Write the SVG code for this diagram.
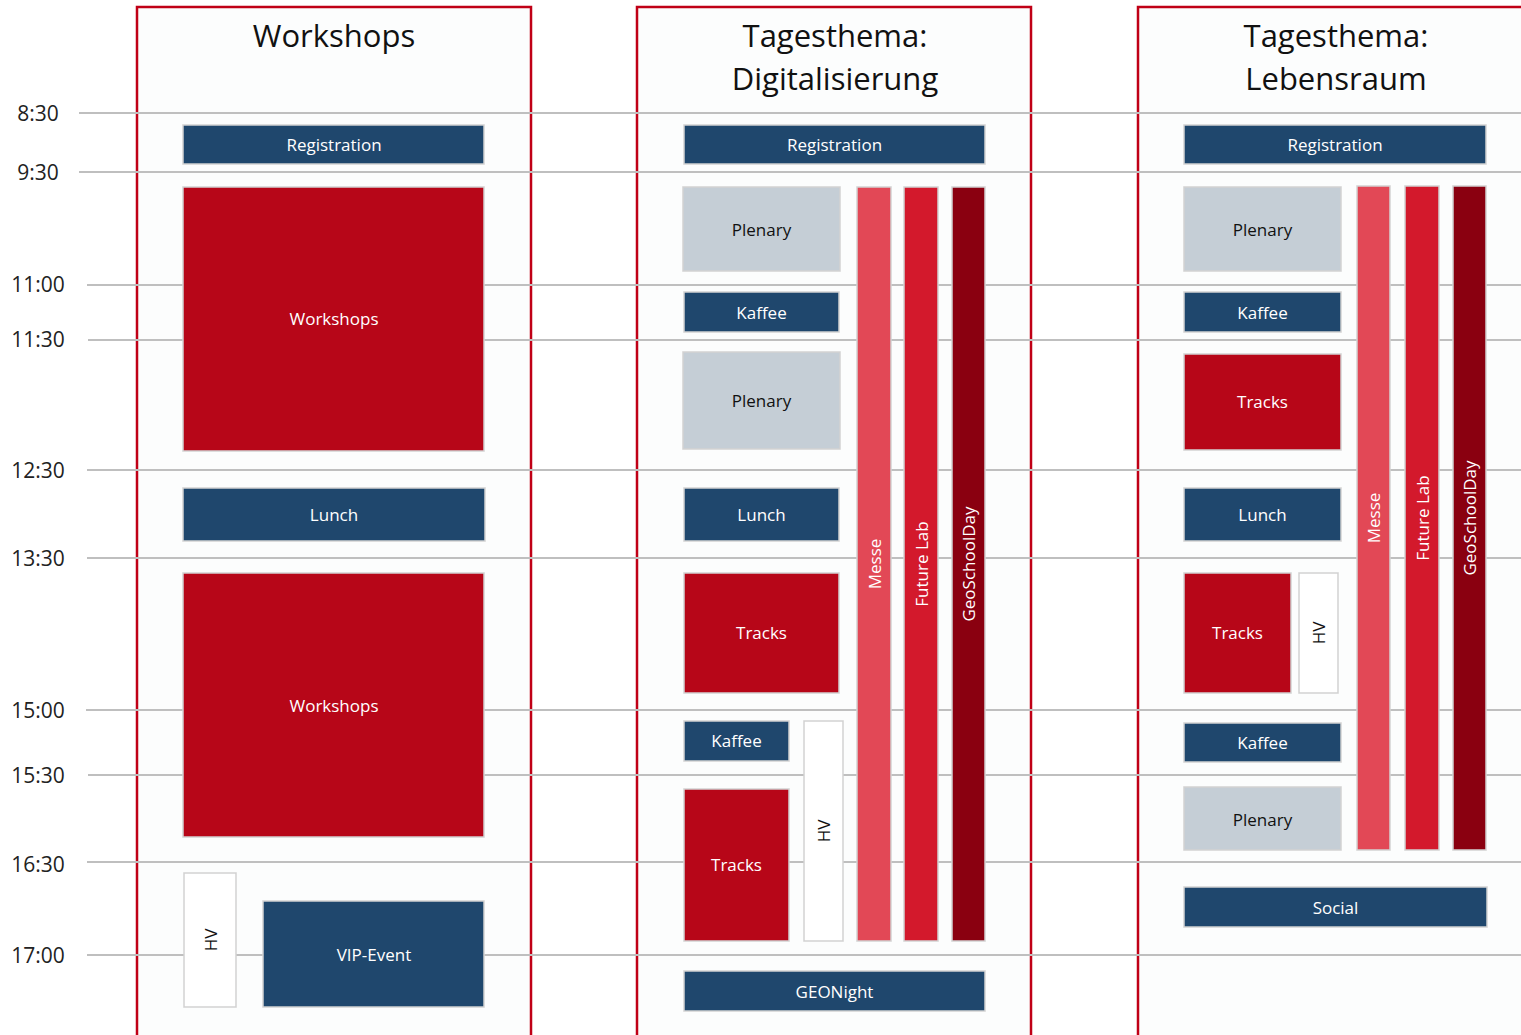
<svg xmlns="http://www.w3.org/2000/svg" width="1521" height="1035" viewBox="0 0 1521 1035">
<style>
.grid line{stroke:#bfbfbf;stroke-width:2}
.col{fill:#fcfdfd;stroke:#c00016;stroke-width:2.5}
.box{stroke:#d2d2d2;stroke-width:1.5}
.navy{fill:#1f476d}
.red{fill:#b70618}
.gray{fill:#c5ced6}
.white{fill:#ffffff}
.messe{fill:#e24856}
.flab{fill:#d3192c}
.geo{fill:#8a0010}
text{font-family:"Open Sans","Noto Sans","Liberation Sans",sans-serif}
.lbl{font-size:17px;fill:#ffffff;text-anchor:middle;dominant-baseline:central}
.dark{fill:#111111}
.title{font-size:31px;fill:#111111;text-anchor:middle}
.time{font-size:21px;fill:#222222;text-anchor:middle}
</style>
<rect width="1521" height="1035" fill="#ffffff"/>
<g id="columns">
<rect class="col" x="137" y="7" width="394" height="1040"/>
<rect class="col" x="637" y="7" width="394" height="1040"/>
<rect class="col" x="1138" y="7" width="400" height="1040"/>
</g>
<g id="titles">
<text class="title" x="334" y="47">Workshops</text>
<text class="title" x="835" y="47">Tagesthema:</text>
<text class="title" x="835" y="90">Digitalisierung</text>
<text class="title" x="1336" y="47">Tagesthema:</text>
<text class="title" x="1336" y="90">Lebensraum</text>
</g>
<g class="grid" id="gridlines">
<line x1="79" y1="113" x2="1521" y2="113"/>
<line x1="79" y1="172" x2="1521" y2="172"/>
<line x1="87" y1="285" x2="1521" y2="285"/>
<line x1="88" y1="340" x2="1521" y2="340"/>
<line x1="87" y1="470" x2="1521" y2="470"/>
<line x1="87" y1="558" x2="1521" y2="558"/>
<line x1="86" y1="710" x2="1521" y2="710"/>
<line x1="88" y1="775" x2="1521" y2="775"/>
<line x1="87" y1="862" x2="1521" y2="862"/>
<line x1="87" y1="955" x2="1521" y2="955"/>
</g>
<g id="times">
<text class="time" x="38" y="121">8:30</text>
<text class="time" x="38" y="180">9:30</text>
<text class="time" x="38" y="292">11:00</text>
<text class="time" x="38" y="347">11:30</text>
<text class="time" x="38" y="478">12:30</text>
<text class="time" x="38" y="566">13:30</text>
<text class="time" x="38" y="718">15:00</text>
<text class="time" x="38" y="783">15:30</text>
<text class="time" x="38" y="872">16:30</text>
<text class="time" x="38" y="963">17:00</text>
</g>
<!-- Workshops column -->
<g id="ws-registration"><rect class="box navy" x="183" y="125" width="301" height="39"/><text class="lbl" x="334" y="144">Registration</text></g>
<g id="ws-workshops1"><rect class="box red" x="183" y="187" width="301" height="264"/><text class="lbl" x="334" y="318">Workshops</text></g>
<g id="ws-lunch"><rect class="box navy" x="183" y="488" width="302" height="53"/><text class="lbl" x="334" y="514.5">Lunch</text></g>
<g id="ws-workshops2"><rect class="box red" x="183" y="573" width="301" height="264"/><text class="lbl" x="334" y="705">Workshops</text></g>
<g id="ws-hv"><rect class="box white" x="184" y="873" width="52" height="134"/><text class="lbl dark" transform="translate(210,940) rotate(-90)">HV</text></g>
<g id="ws-vip"><rect class="box navy" x="263" y="901" width="221" height="106"/><text class="lbl" x="374" y="954">VIP-Event</text></g>
<!-- Digitalisierung column -->
<g id="d-registration"><rect class="box navy" x="684" y="125" width="301" height="39"/><text class="lbl" x="834.5" y="144">Registration</text></g>
<g id="d-plenary1"><rect class="box gray" x="683" y="187" width="157" height="84"/><text class="lbl dark" x="761.5" y="229">Plenary</text></g>
<g id="d-kaffee1"><rect class="box navy" x="684" y="292" width="155" height="40"/><text class="lbl" x="761.5" y="312">Kaffee</text></g>
<g id="d-plenary2"><rect class="box gray" x="683" y="352" width="157" height="97"/><text class="lbl dark" x="761.5" y="400">Plenary</text></g>
<g id="d-lunch"><rect class="box navy" x="684" y="488" width="155" height="53"/><text class="lbl" x="761.5" y="514.5">Lunch</text></g>
<g id="d-tracks1"><rect class="box red" x="684" y="573" width="155" height="120"/><text class="lbl" x="761.5" y="632">Tracks</text></g>
<g id="d-kaffee2"><rect class="box navy" x="684" y="721" width="105" height="40"/><text class="lbl" x="736.5" y="740">Kaffee</text></g>
<g id="d-tracks2"><rect class="box red" x="684" y="789" width="105" height="152"/><text class="lbl" x="736.5" y="864">Tracks</text></g>
<g id="d-hv"><rect class="box white" x="804" y="721" width="39" height="220"/><text class="lbl dark" transform="translate(823.5,831) rotate(-90)">HV</text></g>
<g id="d-messe"><rect class="box messe" x="857" y="187" width="34" height="754"/><text class="lbl" transform="translate(874,564) rotate(-90)">Messe</text></g>
<g id="d-futurelab"><rect class="box flab" x="904" y="187" width="34" height="754"/><text class="lbl" transform="translate(921,564) rotate(-90)">Future Lab</text></g>
<g id="d-geoschoolday"><rect class="box geo" x="952" y="187" width="33" height="754"/><text class="lbl" transform="translate(968.5,564) rotate(-90)">GeoSchoolDay</text></g>
<g id="d-geonight"><rect class="box navy" x="684" y="971" width="301" height="40"/><text class="lbl" x="834.5" y="991">GEONight</text></g>
<!-- Lebensraum column -->
<g id="l-registration"><rect class="box navy" x="1184" y="125" width="302" height="39"/><text class="lbl" x="1335" y="144">Registration</text></g>
<g id="l-plenary1"><rect class="box gray" x="1184" y="187" width="157" height="84"/><text class="lbl dark" x="1262.5" y="229">Plenary</text></g>
<g id="l-kaffee1"><rect class="box navy" x="1184" y="292" width="157" height="40"/><text class="lbl" x="1262.5" y="312">Kaffee</text></g>
<g id="l-tracks1"><rect class="box red" x="1184" y="354" width="157" height="96"/><text class="lbl" x="1262.5" y="401">Tracks</text></g>
<g id="l-lunch"><rect class="box navy" x="1184" y="488" width="157" height="53"/><text class="lbl" x="1262.5" y="514.5">Lunch</text></g>
<g id="l-tracks2"><rect class="box red" x="1184" y="573" width="107" height="120"/><text class="lbl" x="1237.5" y="632">Tracks</text></g>
<g id="l-hv"><rect class="box white" x="1299" y="573" width="39" height="120"/><text class="lbl dark" transform="translate(1318.5,633) rotate(-90)">HV</text></g>
<g id="l-kaffee2"><rect class="box navy" x="1184" y="723" width="157" height="39"/><text class="lbl" x="1262.5" y="742.5">Kaffee</text></g>
<g id="l-plenary2"><rect class="box gray" x="1184" y="787" width="157" height="63"/><text class="lbl dark" x="1262.5" y="819">Plenary</text></g>
<g id="l-messe"><rect class="box messe" x="1357" y="186" width="33" height="664"/><text class="lbl" transform="translate(1373.5,518) rotate(-90)">Messe</text></g>
<g id="l-futurelab"><rect class="box flab" x="1405" y="186" width="34" height="664"/><text class="lbl" transform="translate(1422,518) rotate(-90)">Future Lab</text></g>
<g id="l-geoschoolday"><rect class="box geo" x="1453" y="186" width="33" height="664"/><text class="lbl" transform="translate(1469.5,518) rotate(-90)">GeoSchoolDay</text></g>
<g id="l-social"><rect class="box navy" x="1184" y="887" width="303" height="40"/><text class="lbl" x="1335.5" y="907">Social</text></g>
<g id="connectors"></g>
</svg>
